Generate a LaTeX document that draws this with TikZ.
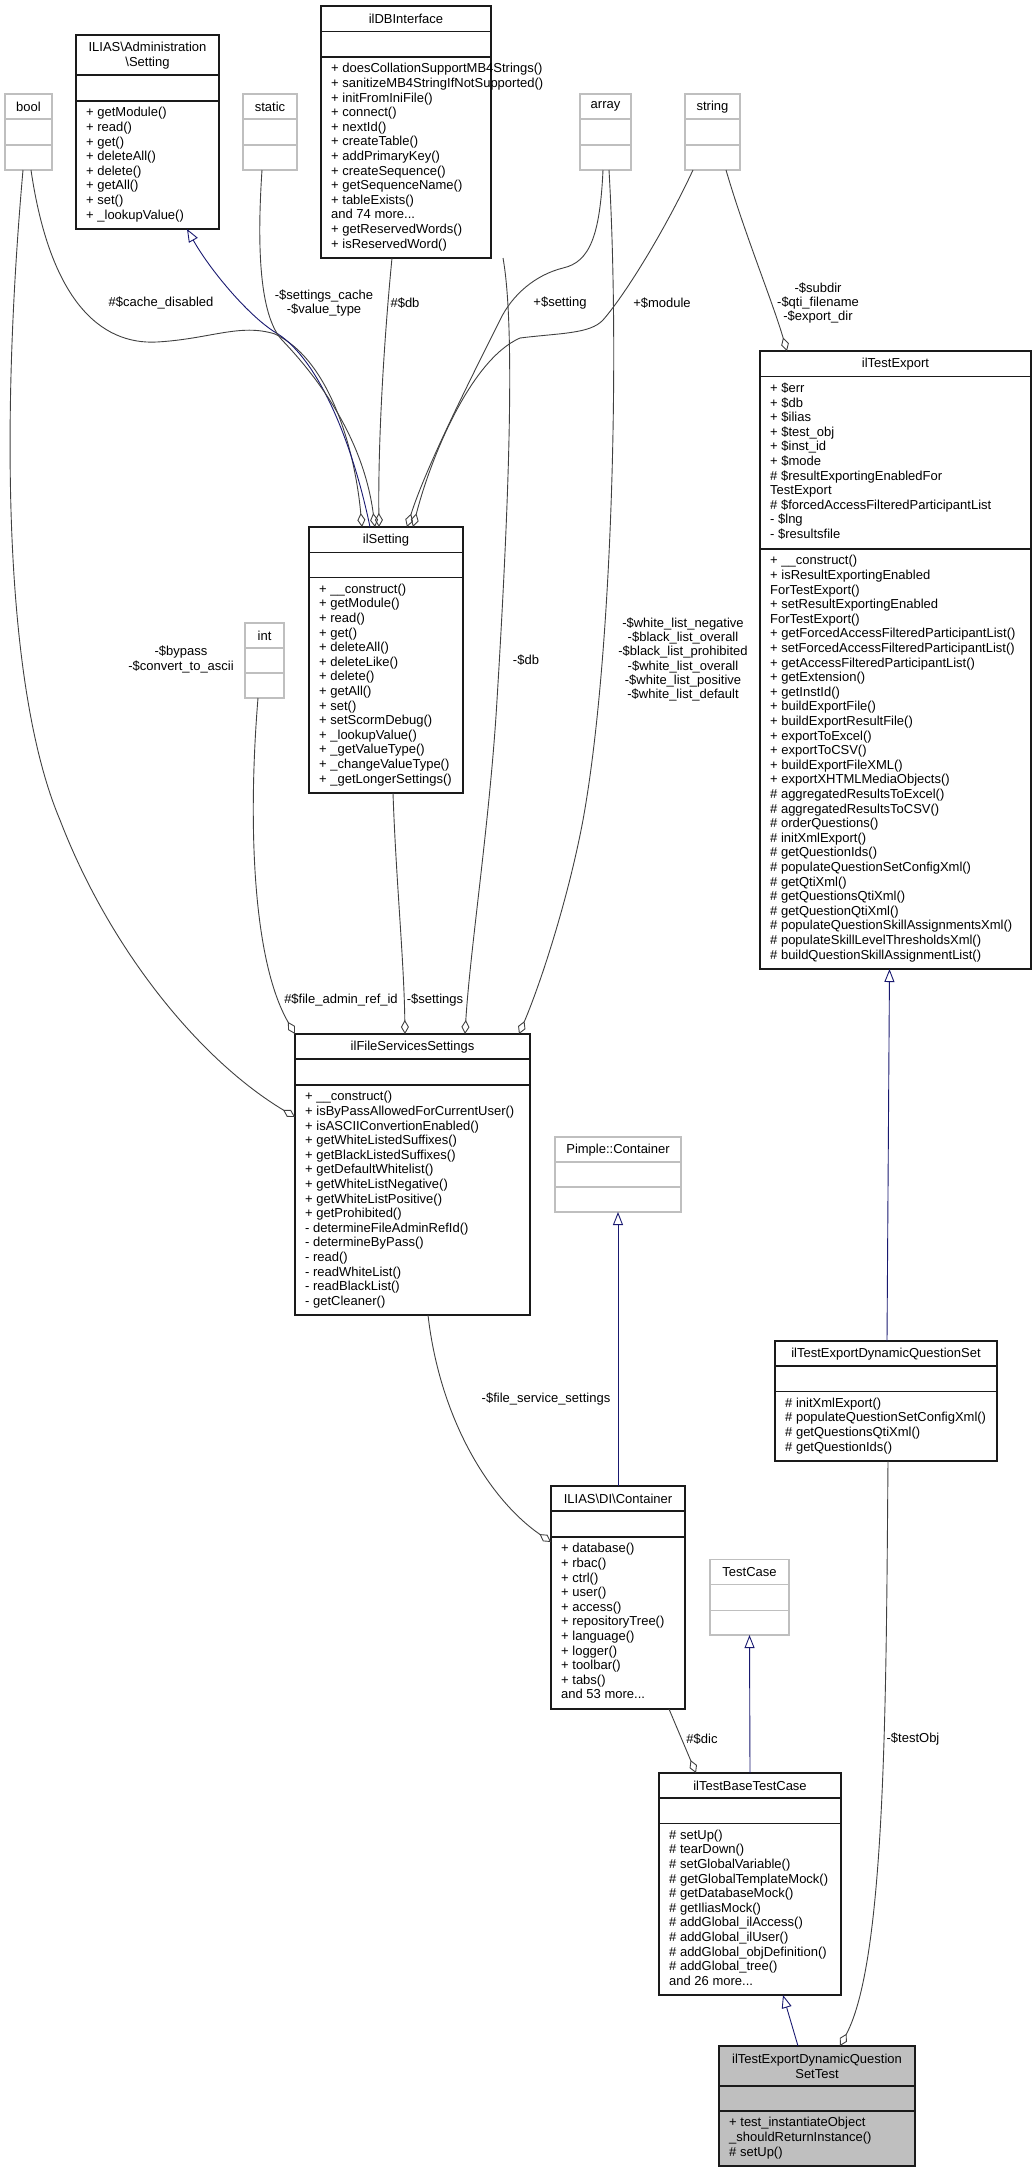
\documentclass[tikz,border=0pt]{standalone}
\usepackage{fontspec}
\setmainfont{Liberation Sans}
\usepackage{tikz}
\usetikzlibrary{arrows.meta, calc}
\definecolor{boxline}{HTML}{1A1A1A}
\definecolor{extline}{HTML}{BFBFBF}
\definecolor{edgegrey}{HTML}{404040}
\definecolor{inhblue}{HTML}{191970}
\definecolor{curfill}{HTML}{BFBFBF}

% class box: name, style, x, y, width, height, first rule, second rule, title
\newcommand{\umlbox}[9]{%
  \node[#2, minimum width=#5pt, minimum height=#6pt] (#1) at (#3,#4) {};
  \draw[#2 rule] ([yshift=-#7pt]#1.north west) -- ([yshift=-#7pt]#1.north east);
  \draw[#2 rule] ([yshift=-#8pt]#1.north west) -- ([yshift=-#8pt]#1.north east);
  \node[title, minimum height=#7pt, anchor=north] (#1-title) at (#1.north) {#9};
}

\begin{document}
\begin{tikzpicture}[x=1pt, y=-1pt,
  font=\fontsize{13}{14.6}\selectfont,
  cls/.style={draw=boxline, line width=1.2pt, inner sep=0, outer sep=0, anchor=north west},
  cls rule/.style={draw=boxline, line width=1.2pt},
  ext/.style={draw=extline, line width=1.2pt, inner sep=0, outer sep=0, anchor=north west},
  ext rule/.style={draw=extline, line width=1.2pt},
  cur/.style={cls, fill=curfill},
  cur rule/.style={cls rule},
  title/.style={align=center, inner sep=0, font=\fontsize{13}{15}\selectfont},
  members/.style={anchor=north west, align=left, inner sep=0},
  lbl/.style={align=center, inner sep=0, font=\fontsize{13}{14.3}\selectfont},
  agg/.style={draw=edgegrey, line width=0.9pt, -{Diamond[open, length=14pt, width=8pt]}},
  inh/.style={draw=inhblue, line width=0.9pt, -{Triangle[open, length=13pt, width=10pt]}}]
\useasboundingbox (0,0) rectangle (1036,2172);

% Top row
\umlbox{bool}{ext}{5}{94}{47}{76}{25}{51}{bool}
\umlbox{admsetting}{cls}{76}{35}{143}{194}{40}{66}{ILIAS\textbackslash Administration\\\textbackslash Setting}
\node[members] (admsetting-ops) at ([xshift=10pt,yshift=-71.4pt]admsetting.north west)
  {\strut + getModule()\\+ read()\\+ get()\\+ deleteAll()\\+ delete()\\+ getAll()\\+ set()\\+ \_lookupValue()};
\umlbox{static}{ext}{243}{94}{54}{76}{25}{51}{static}
\umlbox{dbif}{cls}{321}{6}{170}{252}{25.5}{51}{ilDBInterface}
\node[members] (dbif-ops) at ([xshift=10pt,yshift=-56.4pt]dbif.north west)
  {\strut + doesCollationSupportMB4Strings()\\+ sanitizeMB4StringIfNotSupported()\\+ initFromIniFile()\\+ connect()\\+ nextId()\\+ createTable()\\+ addPrimaryKey()\\+ createSequence()\\+ getSequenceName()\\+ tableExists()\\and 74 more...\\+ getReservedWords()\\+ isReservedWord()};
\umlbox{array}{ext}{580}{94}{51}{76}{25}{51}{array}
\umlbox{string}{ext}{685}{94}{55}{76}{25}{51}{string}

% Middle
\umlbox{ilsetting}{cls}{309}{527}{154}{266}{25.5}{50.5}{ilSetting}
\node[members] (ilsetting-ops) at ([xshift=10pt,yshift=-55.9pt]ilsetting.north west)
  {\strut + \_\_construct()\\+ getModule()\\+ read()\\+ get()\\+ deleteAll()\\+ deleteLike()\\+ delete()\\+ getAll()\\+ set()\\+ setScormDebug()\\+ \_lookupValue()\\+ \_getValueType()\\+ \_changeValueType()\\+ \_getLongerSettings()};
\umlbox{int}{ext}{245}{623}{39}{75}{25}{50}{int}
\umlbox{iltestexport}{cls}{760}{351}{271}{618}{25.7}{198}{ilTestExport}
\node[members] (iltestexport-attrs) at ([xshift=10pt,yshift=-31.1pt]iltestexport.north west)
  {\strut + \$err\\+ \$db\\+ \$ilias\\+ \$test\_obj\\+ \$inst\_id\\+ \$mode\\\# \$resultExportingEnabledFor\\TestExport\\\# \$forcedAccessFilteredParticipantList\\- \$lng\\- \$resultsfile};
\node[members] (iltestexport-ops) at ([xshift=10pt,yshift=-203.4pt]iltestexport.north west)
  {\strut + \_\_construct()\\+ isResultExportingEnabled\\ForTestExport()\\+ setResultExportingEnabled\\ForTestExport()\\+ getForcedAccessFilteredParticipantList()\\+ setForcedAccessFilteredParticipantList()\\+ getAccessFilteredParticipantList()\\+ getExtension()\\+ getInstId()\\+ buildExportFile()\\+ buildExportResultFile()\\+ exportToExcel()\\+ exportToCSV()\\+ buildExportFileXML()\\+ exportXHTMLMediaObjects()\\\# aggregatedResultsToExcel()\\\# aggregatedResultsToCSV()\\\# orderQuestions()\\\# initXmlExport()\\\# getQuestionIds()\\\# populateQuestionSetConfigXml()\\\# getQtiXml()\\\# getQuestionsQtiXml()\\\# getQuestionQtiXml()\\\# populateQuestionSkillAssignmentsXml()\\\# populateSkillLevelThresholdsXml()\\\# buildQuestionSkillAssignmentList()};
\umlbox{fss}{cls}{295}{1034}{235}{281}{25}{51}{ilFileServicesSettings}
\node[members] (fss-ops) at ([xshift=10pt,yshift=-56.4pt]fss.north west)
  {\strut + \_\_construct()\\+ isByPassAllowedForCurrentUser()\\+ isASCIIConvertionEnabled()\\+ getWhiteListedSuffixes()\\+ getBlackListedSuffixes()\\+ getDefaultWhitelist()\\+ getWhiteListNegative()\\+ getWhiteListPositive()\\+ getProhibited()\\- determineFileAdminRefId()\\- determineByPass()\\- read()\\- readWhiteList()\\- readBlackList()\\- getCleaner()};

% Lower part
\umlbox{pimple}{ext}{555}{1137}{126}{75}{25}{50}{Pimple::Container}
\umlbox{tedqs}{cls}{775}{1341}{222}{120}{25}{50.5}{ilTestExportDynamicQuestionSet}
\node[members] (tedqs-ops) at ([xshift=10pt,yshift=-55.9pt]tedqs.north west)
  {\strut \# initXmlExport()\\\# populateQuestionSetConfigXml()\\\# getQuestionsQtiXml()\\\# getQuestionIds()};
\umlbox{dic}{cls}{551}{1486}{134}{223}{25}{51}{ILIAS\textbackslash DI\textbackslash Container}
\node[members] (dic-ops) at ([xshift=10pt,yshift=-56.4pt]dic.north west)
  {\strut + database()\\+ rbac()\\+ ctrl()\\+ user()\\+ access()\\+ repositoryTree()\\+ language()\\+ logger()\\+ toolbar()\\+ tabs()\\and 53 more...};
\umlbox{testcase}{ext}{710}{1559.5}{79}{75.5}{25.3}{50.6}{TestCase}
\umlbox{tbtc}{cls}{659}{1773}{182}{222}{25}{50.5}{ilTestBaseTestCase}
\node[members] (tbtc-ops) at ([xshift=10pt,yshift=-55.9pt]tbtc.north west)
  {\strut \# setUp()\\\# tearDown()\\\# setGlobalVariable()\\\# getGlobalTemplateMock()\\\# getDatabaseMock()\\\# getIliasMock()\\\# addGlobal\_ilAccess()\\\# addGlobal\_ilUser()\\\# addGlobal\_objDefinition()\\\# addGlobal\_tree()\\and 26 more...};
\umlbox{test}{cur}{719}{2046}{196}{120}{40}{65}{ilTestExportDynamicQuestion\\SetTest}
\node[members] (test-ops) at ([xshift=10pt,yshift=-70.4pt]test.north west)
  {\strut + test\_instantiateObject\\\_shouldReturnInstance()\\\# setUp()};

% Edges into ilSetting
\draw[agg] ([xshift=26pt]bool.south west) .. controls (50,300) and (100,345) .. (157,342) .. controls (210,339) and (240,323) .. (275,334) .. controls (330,360) and (355,450) .. ([xshift=53pt]ilsetting.north west);
\draw[inh] ([xshift=61pt]ilsetting.north west) .. controls (352,440) and (318,360) .. (278,334) .. controls (250,318) and (210,270) .. ([xshift=111pt]admsetting.south west);
\draw[agg] ([xshift=19pt]static.south west) .. controls (256,260) and (262,318) .. (282,340) .. controls (330,390) and (365,450) .. ([xshift=66pt]ilsetting.north west);
\draw[agg] ([xshift=71pt]dbif.south west) .. controls (384,340) and (378,440) .. ([xshift=70pt]ilsetting.north west);
\draw[agg] ([xshift=23pt]array.south west) .. controls (600,235) and (590,262) .. (563,268) .. controls (535,275) and (512,295) .. (500,320) .. controls (465,390) and (425,470) .. ([xshift=98pt]ilsetting.north west);
\draw[agg] ([xshift=8pt]string.south west) .. controls (665,230) and (625,295) .. (603,320) .. controls (590,334) and (560,333) .. (520,338) .. controls (470,360) and (430,460) .. ([xshift=104pt]ilsetting.north west);
\draw[agg] ([xshift=41pt]string.south west) .. controls (745,235) and (772,300) .. ([xshift=27pt]iltestexport.north west);

% Edges into ilFileServicesSettings
\draw[agg] ([xshift=18pt]bool.south west) .. controls (0,430) and (5,690) .. (60,820) .. controls (110,950) and (200,1060) .. ([yshift=-83pt]fss.north west);
\draw[agg] ([xshift=13pt]int.south west) .. controls (248,820) and (252,960) .. (fss.north west);
\draw[agg] ([xshift=84pt]ilsetting.south west) .. controls (396,880) and (404,960) .. ([xshift=110pt]fss.north west);
\draw[agg] ([xshift=182pt]dbif.south west) .. controls (516,330) and (508,520) .. (497,700) .. controls (490,820) and (470,950) .. ([xshift=170pt]fss.north west);
\draw[agg] ([xshift=29pt]array.south west) .. controls (620,360) and (612,660) .. (583,820) .. controls (568,900) and (540,985) .. ([xshift=224pt]fss.north west);

% Lower edges
\draw[agg] ([xshift=133pt]fss.south west) .. controls (440,1420) and (490,1500) .. ([yshift=-56pt]dic.north west);
\draw[inh] (dic.north) -- (pimple.south);
\draw[agg] ([xshift=118pt]dic.south west) -- ([xshift=37pt]tbtc.north west);
\draw[inh] (tbtc.north) -- (testcase.south);
\draw[inh] ([xshift=1pt]tedqs.north) -- ([xshift=-6pt]iltestexport.south);
\draw[agg] ([xshift=2pt]tedqs.south) .. controls (886,1700) and (886,1960) .. ([xshift=121pt]test.north west);
\draw[inh] ([xshift=79pt]test.north west) -- ([xshift=124pt]tbtc.south west);

% Edge labels
\node[lbl] (lbl-cache) at (161,303) {\#\$cache\_disabled};
\node[lbl] (lbl-static) at (324,303) {-\$settings\_cache\\-\$value\_type};
\node[lbl] (lbl-dbset) at (405,303) {\#\$db};
\node[lbl] (lbl-setting) at (560,303) {+\$setting};
\node[lbl] (lbl-module) at (662,303) {+\$module};
\node[lbl] (lbl-export) at (818,303) {-\$subdir\\-\$qti\_filename\\-\$export\_dir};
\node[lbl] (lbl-bypass) at (181,659.5) {-\$bypass\\-\$convert\_to\_ascii};
\node[lbl] (lbl-dbfss) at (526,660) {-\$db};
\node[lbl] (lbl-lists) at (683,659.5) {-\$white\_list\_negative\\-\$black\_list\_overall\\-\$black\_list\_prohibited\\-\$white\_list\_overall\\-\$white\_list\_positive\\-\$white\_list\_default};
\node[lbl] (lbl-refid) at (341,1000) {\#\$file\_admin\_ref\_id};
\node[lbl] (lbl-settings) at (435,1000) {-\$settings};
\node[lbl] (lbl-fss) at (546,1399) {-\$file\_service\_settings};
\node[lbl] (lbl-dic) at (702,1739) {\#\$dic};
\node[lbl] (lbl-testobj) at (913,1739) {-\$testObj};
\end{tikzpicture}
\end{document}
